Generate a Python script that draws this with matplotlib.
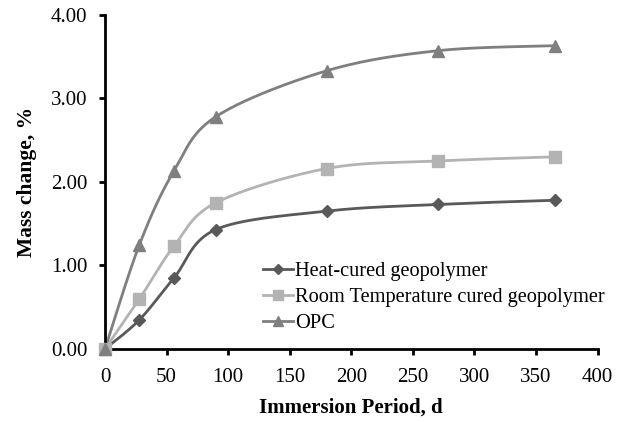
import matplotlib
matplotlib.use('Agg')
import matplotlib.pyplot as plt
from matplotlib.lines import Line2D
import numpy as np

days = [0, 28, 56, 90, 180, 270, 365]
heat_cured = [0.00, 0.35, 0.85, 1.43, 1.65, 1.73, 1.78]
room_cured = [0.00, 0.60, 1.23, 1.75, 2.16, 2.25, 2.30]
opc = [0.00, 1.25, 2.13, 2.78, 3.33, 3.57, 3.63]

series_names = ['Heat-cured geopolymer', 'Room Temperature cured geopolymer', 'OPC']
x_ticks = [0, 50, 100, 150, 200, 250, 300, 350, 400]
y_ticks = [0.0, 1.0, 2.0, 3.0, 4.0]


def smooth_curve(x, y, n=40):
  """Excel-like smoothed line: cubic bezier through the points."""
  p = np.column_stack([x, y]).astype(float)
  ext = np.vstack([p[0], p, p[-1]])
  out = []
  t = np.linspace(0, 1, n)[:, None]
  for i in range(len(p) - 1):
    p0, p3 = ext[i + 1], ext[i + 2]
    c1 = p0 + (ext[i + 2] - ext[i]) / 6.0
    c2 = p3 - (ext[i + 3] - ext[i + 1]) / 6.0
    seg = (1 - t) ** 3 * p0 + 3 * (1 - t) ** 2 * t * c1 + 3 * (1 - t) * t ** 2 * c2 + t ** 3 * p3
    out.append(seg if i == 0 else seg[1:])
  out = np.vstack(out)
  return out[:, 0], out[:, 1]


plt.rcParams['font.family'] = ['Liberation Serif', 'DejaVu Serif']

fig = plt.figure(figsize=(6.26, 4.23), dpi=100)
ax = fig.add_axes([0.1677, 0.175, 0.787, 0.79])

styles = [('#595959', 'D', 6), ('#b3b3b3', 's', 8), ('#7f7f7f', '^', 8)]
handles = []
for vals, name, (col, mk, ms) in zip([heat_cured, room_cured, opc], series_names, styles):
  sx, sy = smooth_curve(days, vals)
  ax.plot(sx, sy, color=col, lw=2, zorder=2)
  ax.plot(days, vals, ls='none', marker=mk, ms=ms, color=col, zorder=3, clip_on=False)
  handles.append(Line2D([], [], color=col, lw=2, marker=mk, ms=ms * 0.85, label=name))

ax.set_xlim(0, 400)
ax.set_ylim(0, 4)
ax.set_xticks(x_ticks)
ax.set_yticks(y_ticks)
ax.set_yticklabels(['%.2f' % v for v in y_ticks])
for s in ['top', 'right']:
  ax.spines[s].set_visible(False)
for s in ['left', 'bottom']:
  ax.spines[s].set_linewidth(2)
ax.tick_params(direction='out', width=2, length=4.5, labelsize=15)
ax.tick_params(axis='y', pad=8)
ax.tick_params(axis='x', pad=9)
ax.set_xlabel('Immersion Period, d', fontsize=15, fontweight='bold', labelpad=8)
ax.set_ylabel('Mass change, %', fontsize=15.5, fontweight='bold', labelpad=10)

ax.legend(handles=handles, loc='lower left', bbox_to_anchor=(0.295, 0.01), frameon=False,
          fontsize=14.7, handlelength=1.5, handletextpad=0.1, labelspacing=0.33, borderaxespad=0.2)

plt.savefig('out.png', dpi=100)
